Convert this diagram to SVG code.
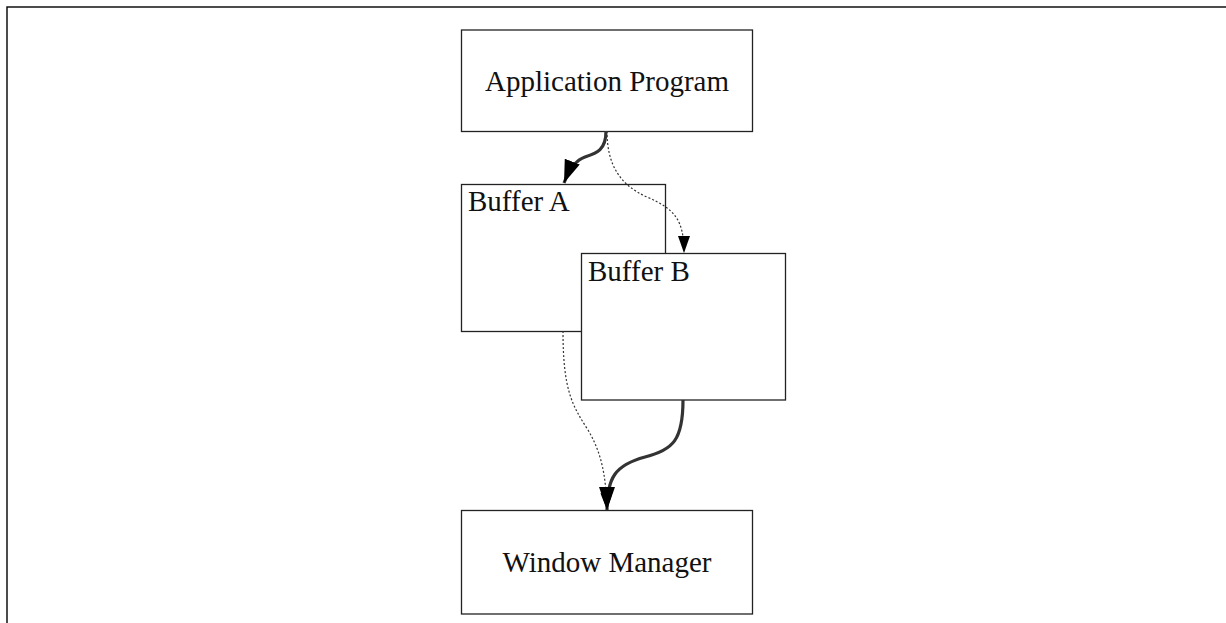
<svg xmlns="http://www.w3.org/2000/svg" width="1226" height="623" viewBox="0 0 1226 623">
<style>
.box{fill:#fff;stroke:#222;stroke-width:1.3}
.lbl{font-family:"Liberation Serif","Times New Roman",serif;font-size:29px;fill:#111}
.thick{fill:none;stroke:#333;stroke-width:3.2}
.dot{fill:none;stroke:#333;stroke-width:1.2;stroke-dasharray:2 2}
</style>
<defs>
<marker id="ahBig" markerUnits="userSpaceOnUse" markerWidth="24" markerHeight="18" refX="23" refY="8" orient="auto">
<path d="M0,0 L23,8 L0,16 Z" fill="#000"/>
</marker>
<marker id="ahSmall" markerUnits="userSpaceOnUse" markerWidth="18" markerHeight="13" refX="17" refY="6" orient="auto">
<path d="M0,0 L17,6 L0,12 Z" fill="#000"/>
</marker>
</defs>
<rect x="7" y="7" width="1240" height="640" fill="none" stroke="#000" stroke-width="1.4"/>
<g id="app">
<rect class="box" x="461.5" y="30" width="291" height="101.5"/>
<text class="lbl" x="607" y="91" text-anchor="middle">Application Program</text>
</g>
<g id="bufferA">
<rect class="box" x="461.5" y="184.5" width="204" height="147"/>
<text class="lbl" x="468" y="211">Buffer A</text>
</g>
<g id="bufferB">
<rect class="box" x="581.5" y="253.5" width="204" height="146.5"/>
<text class="lbl" x="588" y="281">Buffer B</text>
</g>
<g id="wm">
<rect class="box" x="461.5" y="510.5" width="291" height="103.5"/>
<text class="lbl" x="607" y="572" text-anchor="middle">Window Manager</text>
</g>
<g id="connectors">
<path class="thick" d="M606,131 C606,150 597,153 585,157 C576,160 569,170 564,183" marker-end="url(#ahBig)"/>
<path class="dot" d="M607,131 C607,165 620,185 647,197 C675,209 684,220 684,253" marker-end="url(#ahSmall)"/>
<path class="dot" d="M563,331 C563,390 572,405 588,430 C603,455 606,480 607,510" marker-end="url(#ahSmall)"/>
<path class="thick" d="M683,400 C683,440 673,450 645,457 C615,465 607,478 607,510" marker-end="url(#ahBig)"/>
</g>
</svg>
